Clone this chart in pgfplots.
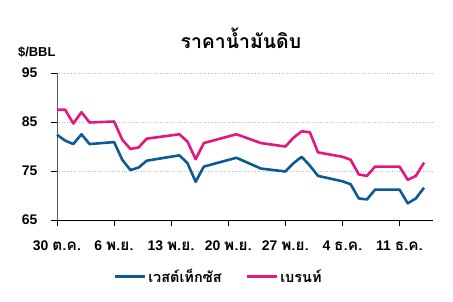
\documentclass[border=0pt]{standalone}
\usepackage{pgfplots}
\pgfplotsset{compat=1.18}
\usepackage{fontspec}
\setmainfont{Liberation Sans}
\newfontfamily\thaifont[Script=Thai]{Loma}
\newfontfamily\thaibig[Script=Thai, Scale=1.1]{Loma}
\definecolor{wti}{HTML}{0E5A96}
\definecolor{brent}{HTML}{E5177F}
\begin{document}
\begin{tikzpicture}
\useasboundingbox (-57bp,-82bp) rectangle (396bp,220bp);
\begin{axis}[
  at={(0,0)}, anchor=south west,
  scale only axis, width=376bp, height=147bp,
  xmin=0, xmax=46.1, ymin=65, ymax=95,
  axis x line*=bottom, axis y line*=left,
  x axis line style={-, black, line width=0.8bp},
  y axis line style={-, black!65, line width=0.8bp},
  xtick={0,7,14,21,28,35,42},
  xticklabels={30 {\thaibig ต.ค.},6 {\thaibig พ.ย.},13 {\thaibig พ.ย.},20 {\thaibig พ.ย.},27 {\thaibig พ.ย.},4 {\thaibig ธ.ค.},11 {\thaibig ธ.ค.}},
  ytick={65,75,85,95},
  tick align=outside, major tick length=6bp,
  tick style={black, line width=0.8bp},
  x tick label style={font=\fontsize{14}{14}\selectfont\bfseries, yshift=-11bp},
  y tick label style={font=\fontsize{14}{14}\selectfont\bfseries, xshift=-10bp},
  /pgf/number format/assume math mode=true,
  ymajorgrids, grid style={black!25, dotted, line width=0.6bp},
  clip=false,
  legend columns=2,
  legend style={draw=none, fill=none, at={(axis description cs:0.43,-0.385)}, anchor=center,
    font=\fontsize{14.5}{14.5}\selectfont\thaifont\bfseries, /tikz/every even column/.append style={column sep=22bp}},
  legend image code/.code={\draw[#1, line width=2.5bp] (0,0) -- (30bp,0);},
]
\addplot[wti, line width=2.6bp, line join=round] coordinates {
(0,82.4) (1,81.2) (2,80.5) (3,82.5) (4,80.5) (7,80.9) (8,77.3) (9,75.2) (10,75.7) (11,77.1)
(15,78.2) (16,76.6) (17,72.8) (18,75.9) (22,77.7) (25,75.5) (28,74.9) (29,76.6) (30,77.9)
(31,76.1) (32,74.0) (35,72.9) (36,72.3) (37,69.4) (38,69.2) (39,71.2) (42,71.2) (43,68.4)
(44,69.4) (45,71.6)};
\addlegendentry{เวสต์เท็กซัส}
\addplot[brent, line width=2.6bp, line join=round] coordinates {
(0,87.5) (1,87.5) (2,84.7) (3,87.0) (4,84.9) (7,85.1) (8,81.4) (9,79.5) (10,79.8) (11,81.6)
(15,82.5) (16,81.0) (17,77.4) (18,80.7) (22,82.5) (25,80.7) (28,80.0) (29,81.8) (30,83.1)
(31,82.9) (32,78.8) (35,77.9) (36,77.3) (37,74.3) (38,74.0) (39,75.9) (42,75.9) (43,73.2)
(44,74.0) (45,76.7)};
\addlegendentry{เบรนท์}
\node[font=\fontsize{19.5}{19.5}\selectfont\thaifont\bfseries] at (axis description cs:0.489,1.235) {ราคาน้ำมันดิบ};
\node[font=\fontsize{13}{13}\selectfont\bfseries, anchor=west, inner sep=0pt] at (axis description cs:-0.104,1.143) {\$/BBL};
\end{axis}
\end{tikzpicture}
\end{document}
